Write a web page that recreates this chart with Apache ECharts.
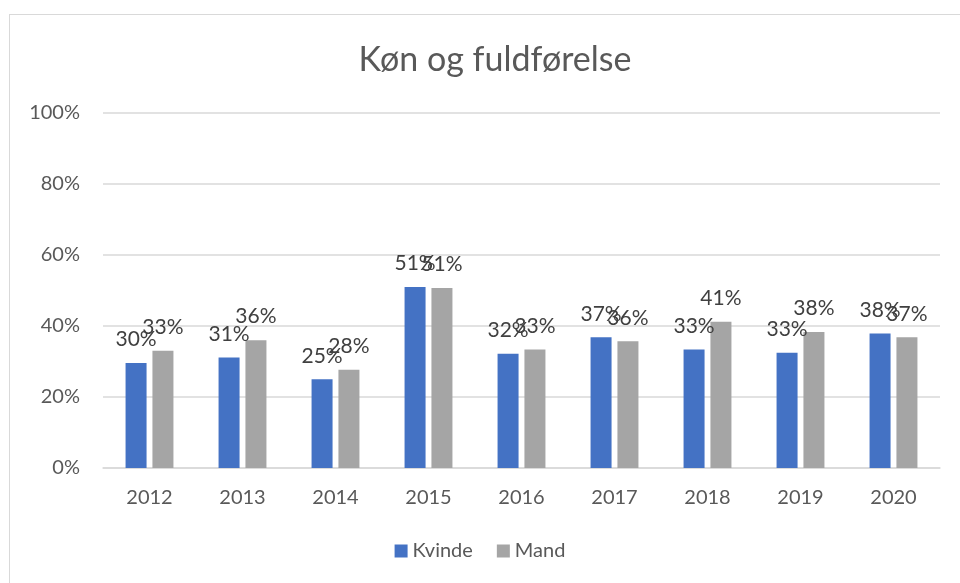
<!DOCTYPE html>
<html>
<head>
<meta charset="utf-8">
<script src="https://cdn.jsdelivr.net/npm/echarts@6/dist/echarts.min.js"></script>
<style>
  html, body { margin: 0; padding: 0; background: #fff; }
  #frame { position: absolute; left: 9px; top: 14px; width: 1000px; height: 620px; border: 1px solid #d9d9d9; box-sizing: border-box; }
  #chart { position: absolute; left: 0; top: 0; width: 960px; height: 583px; }
</style>
</head>
<body>
<div id="frame"></div>
<div id="chart"></div>
<script>
// år
const years = ['2012', '2013', '2014', '2015', '2016', '2017', '2018', '2019', '2020']
// andel i procent
const kvinde = [29.6, 31.1, 25.0, 51.0, 32.2, 36.8, 33.4, 32.5, 37.9]
const mand = [33.0, 36.0, 27.7, 50.7, 33.4, 35.7, 41.2, 38.3, 36.8]

const textColor = '#595959'
const font = 'Lato'

const chart = echarts.init(document.getElementById('chart'))

const labelOpt = {
  show: true,
  position: 'top',
  distance: 13,
  color: '#404040',
  fontFamily: font,
  fontSize: 21,
  formatter: p => Math.round(p.value) + '%'
}

chart.setOption({
  animation: false,
  title: {
    text: 'Køn og fuldførelse',
    left: 490,
    top: 38,
    textAlign: 'center',
    textStyle: { color: textColor, fontFamily: font, fontSize: 34, fontWeight: 'normal' }
  },
  legend: {
    bottom: 17,
    left: 'center',
    itemWidth: 13,
    itemHeight: 13,
    itemGap: 24,
    icon: 'rect',
    textStyle: { color: textColor, fontFamily: font, fontSize: 20 },
    data: ['Kvinde', 'Mand']
  },
  grid: {
    left: 103,
    right: 20,
    top: 113,
    bottom: 115
  },
  xAxis: {
    type: 'category',
    data: years,
    axisTick: { show: false },
    axisLine: { lineStyle: { color: '#d9d9d9', width: 1.5 } },
    axisLabel: { color: textColor, fontFamily: font, fontSize: 20, margin: 20 }
  },
  yAxis: {
    type: 'value',
    min: 0,
    max: 100,
    interval: 20,
    axisLine: { show: false },
    axisTick: { show: false },
    splitLine: { lineStyle: { color: '#d9d9d9', width: 1.5 } },
    axisLabel: { color: textColor, fontFamily: font, fontSize: 20, margin: 23, formatter: '{value}%' }
  },
  series: [
    {
      name: 'Kvinde',
      type: 'bar',
      data: kvinde,
      barWidth: 21,
      barGap: '28%',
      itemStyle: { color: '#4472c4' },
      label: labelOpt
    },
    {
      name: 'Mand',
      type: 'bar',
      data: mand,
      barWidth: 21,
      itemStyle: { color: '#a5a5a5' },
      label: labelOpt
    }
  ]
})
</script>
</body>
</html>
